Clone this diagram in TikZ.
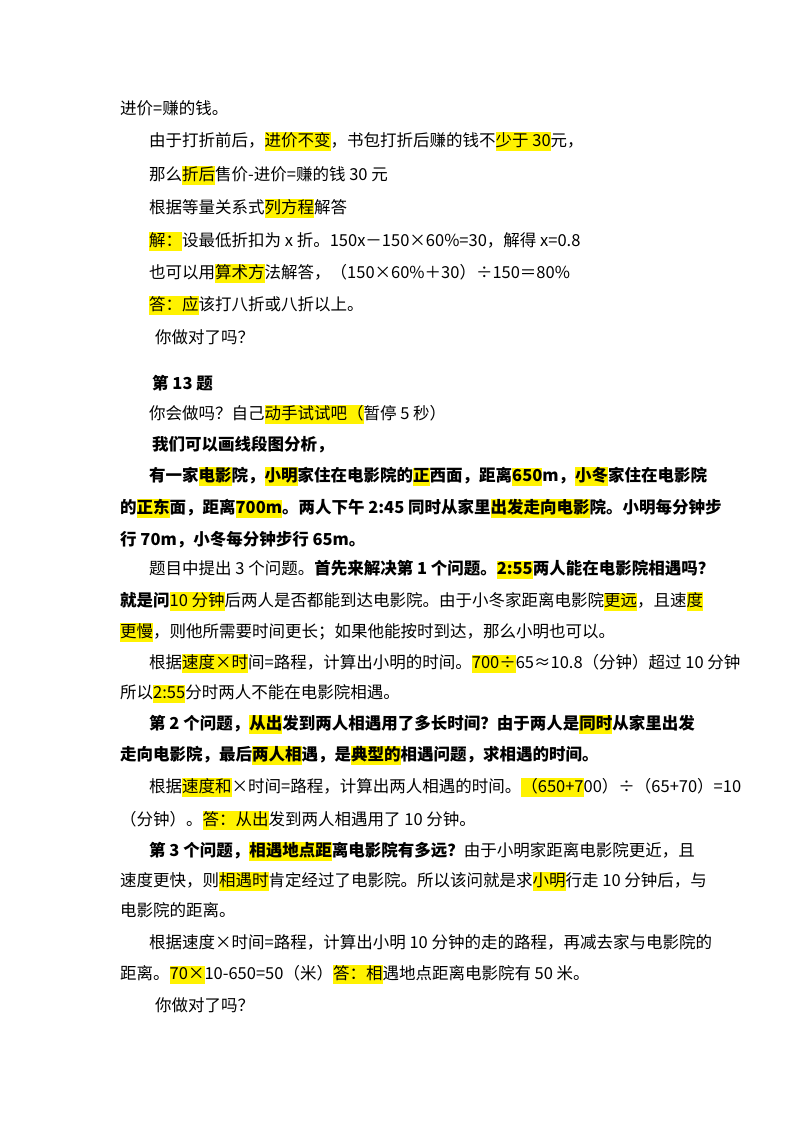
\documentclass[tikz,border=0pt]{standalone}
\usepackage{fontspec}
\setmainfont{Noto Sans CJK SC}
\usepackage{xcolor}
\newcommand\hl[1]{{\setlength\fboxsep{0pt}\colorbox{yellow}{\strut #1}}}
\begin{document}
\begin{tikzpicture}[x=1pt,y=-1pt,ln/.style={anchor=base west,inner sep=0pt,font=\fontsize{16.5}{18}\selectfont}]
\useasboundingbox (0,0) rectangle (800,1132);
\node[ln] (l1) at (120,114) {进价=赚的钱。};
\node[ln] (l2) at (149,146) {由于打折前后，\hl{进价不变}，书包打折后赚的钱不\hl{少于 30}元，};
\node[ln] (l3) at (149,180) {那么\hl{折后}售价-进价=赚的钱 30 元};
\node[ln] (l4) at (149,213) {根据等量关系式\hl{列方程}解答};
\node[ln] (l5) at (149,246) {\hl{解：}设最低折扣为 x 折。150x－150×60\%=30，解得 x=0.8};
\node[ln] (l6) at (149,278) {也可以用\hl{算术方}法解答，（150×60\%＋30）÷150＝80\%};
\node[ln] (l7) at (149,310) {\hl{答：应}该打八折或八折以上。};
\node[ln] (l8) at (155,343) {你做对了吗？};
\node[ln,font=\fontsize{16.5}{18}\selectfont\bfseries] (l9) at (152,389) {第 13 题};
\node[ln] (l10) at (149,419) {你会做吗？自己\hl{动手试试吧（}暂停 5 秒）};
\node[ln,font=\fontsize{16.5}{18}\selectfont\bfseries] (l11) at (152,450) {我们可以画线段图分析，};
\node[ln,font=\fontsize{16.5}{18}\selectfont\bfseries] (l12) at (149,481) {有一家\hl{电影}院，\hl{小明}家住在电影院的\hl{正}西面，距离\hl{650}m，\hl{小冬}家住在电影院};
\node[ln,font=\fontsize{16.5}{18}\selectfont\bfseries] (l13) at (120,513) {的\hl{正东}面，距离\hl{700m}。两人下午 2:45 同时从家里\hl{出发走向电影}院。小明每分钟步};
\node[ln,font=\fontsize{16.5}{18}\selectfont\bfseries] (l14) at (120,545) {行 70m，小冬每分钟步行 65m。};
\node[ln] (l15) at (149,574) {题目中提出 3 个问题。\textbf{首先来解决第 1 个问题。\hl{2:55}两人能在电影院相遇吗？}};
\node[ln] (l16) at (120,606) {\textbf{就是问}\hl{10 分钟}后两人是否都能到达电影院。由于小冬家距离电影院\hl{更远}，且速\hl{度}};
\node[ln] (l17) at (120,637) {\hl{更慢}，则他所需要时间更长；如果他能按时到达，那么小明也可以。};
\node[ln] (l18) at (149,668) {根据\hl{速度×时}间=路程，计算出小明的时间。\hl{700÷}65≈10.8（分钟）超过 10 分钟};
\node[ln] (l19) at (120,698) {所以\hl{2:55}分时两人不能在电影院相遇。};
\node[ln,font=\fontsize{16.5}{18}\selectfont\bfseries] (l20) at (149,729) {第 2 个问题，\hl{从出}发到两人相遇用了多长时间？由于两人是\hl{同时}从家里出发};
\node[ln,font=\fontsize{16.5}{18}\selectfont\bfseries] (l21) at (120,760) {走向电影院，最后\hl{两人相}遇，是\hl{典型的}相遇问题，求相遇的时间。};
\node[ln] (l22) at (149,792) {根据\hl{速度和}×时间=路程，计算出两人相遇的时间。\hl{（650+7}00）÷（65+70）=10};
\node[ln] (l23) at (120,825) {（分钟）。\hl{答：从出}发到两人相遇用了 10 分钟。};
\node[ln] (l24) at (149,856) {\textbf{第 3 个问题，\hl{相遇地点距}离电影院有多远？}由于小明家距离电影院更近，且};
\node[ln] (l25) at (120,886) {速度更快，则\hl{相遇时}肯定经过了电影院。所以该问就是求\hl{小明}行走 10 分钟后，与};
\node[ln] (l26) at (120,916) {电影院的距离。};
\node[ln] (l27) at (149,948) {根据速度×时间=路程，计算出小明 10 分钟的走的路程，再减去家与电影院的};
\node[ln] (l28) at (120,979) {距离。\hl{70×}10-650=50（米）\hl{答：相}遇地点距离电影院有 50 米。};
\node[ln] (l29) at (155,1011) {你做对了吗？};
\end{tikzpicture}
\end{document}
